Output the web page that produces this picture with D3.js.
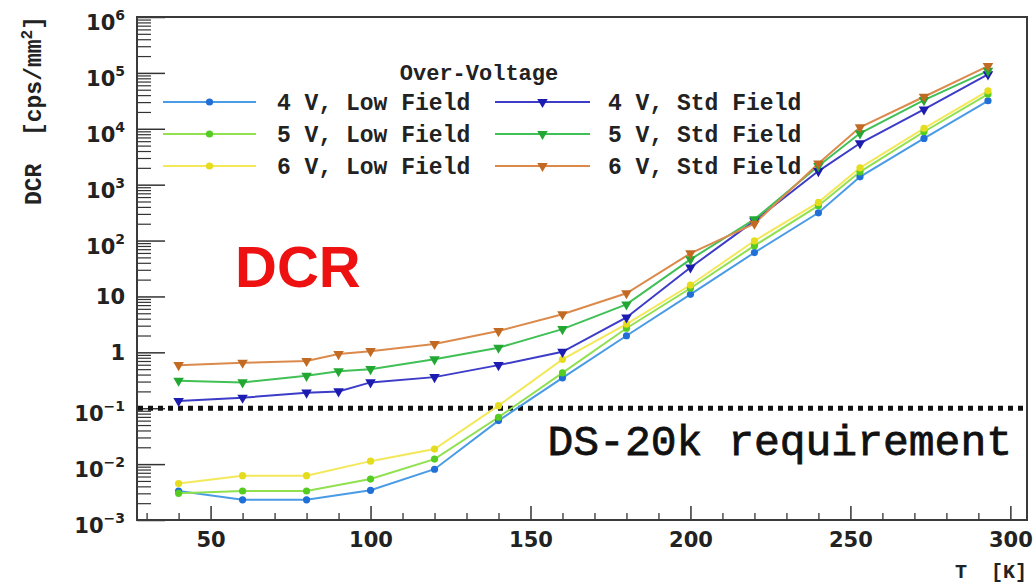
<!DOCTYPE html>
<html>
<head>
<meta charset="utf-8">
<script src="https://cdn.jsdelivr.net/npm/d3@7"></script>
<style>
  html, body { margin: 0; padding: 0; background: #ffffff; }
  svg { display: block; }
</style>
</head>
<body>
<svg id="chart" width="1036" height="585"></svg>
<script>
// Temperatures (K) at which each field configuration was measured
const tempsLow = [40, 60, 80, 100, 120, 140, 160, 180, 200, 220, 240, 253, 273, 293];
const tempsStd = [40, 60, 80, 90, 100, 120, 140, 160, 180, 200, 220, 240, 253, 273, 293];

// Dark count rate, cps/mm^2
const dcr4VLow = [0.0033, 0.0023, 0.0023, 0.0034, 0.0081, 0.060, 0.35, 1.98, 10.9, 61, 314, 1380, 6730, 31700];
const dcr5VLow = [0.0030, 0.0033, 0.0033, 0.0054, 0.0123, 0.069, 0.43, 2.7, 14, 81, 420, 1700, 8850, 41800];
const dcr6VLow = [0.0045, 0.0062, 0.0062, 0.0113, 0.0186, 0.111, 0.75, 3.2, 16, 99, 482, 2000, 10200, 47800];
const dcr4VStd = [0.135, 0.154, 0.19, 0.20, 0.29, 0.36, 0.59, 1.02, 4.2, 33, 225, 1750, 5500, 22200, 94000];
const dcr5VStd = [0.31, 0.29, 0.38, 0.46, 0.50, 0.75, 1.21, 2.6, 7.2, 46, 240, 2150, 8300, 32600, 109000];
const dcr6VStd = [0.59, 0.65, 0.70, 0.93, 1.05, 1.41, 2.4, 4.8, 11.4, 59, 200, 2400, 10600, 37400, 132000];

const seriesNames = ["4 V, Low Field", "5 V, Low Field", "6 V, Low Field",
                     "4 V, Std Field", "5 V, Std Field", "6 V, Std Field"];

const requirement = 0.1;
const xTickLabels = [50, 100, 150, 200, 250, 300];
const yDecades = [-3, -2, -1, 0, 1, 2, 3, 4, 5, 6];

// Series table assembled from the arrays above
const series = [
  { name: seriesNames[0], t: tempsLow, v: dcr4VLow, line: "#4a9be6", mark: "#1f6fd6", shape: "circle" },
  { name: seriesNames[1], t: tempsLow, v: dcr5VLow, line: "#90e050", mark: "#55cc22", shape: "circle" },
  { name: seriesNames[2], t: tempsLow, v: dcr6VLow, line: "#f3e85a", mark: "#e6dc1e", shape: "circle" },
  { name: seriesNames[3], t: tempsStd, v: dcr4VStd, line: "#3c3cc8", mark: "#1c1cb0", shape: "tri" },
  { name: seriesNames[4], t: tempsStd, v: dcr5VStd, line: "#40c055", mark: "#22a832", shape: "tri" },
  { name: seriesNames[5], t: tempsStd, v: dcr6VStd, line: "#db8a4c", mark: "#c26a22", shape: "tri" }
];

const svg = d3.select("#chart");
const L = 137, R = 1027, T = 17, B = 520;

const x = d3.scaleLinear().domain([27, 305.2]).range([L, R]);
const y = d3.scaleLog().domain([1e-3, 1e6]).range([B, T]);

const labelFont = "'DejaVu Sans', Verdana, sans-serif";
const monoFont = "'Liberation Mono', 'Courier New', monospace";

// ---- axes ----
const xMinor = d3.range(30, 306, 10).filter(d => d % 50 !== 0);
svg.append("g").attr("transform", `translate(0,${B})`)
  .call(d3.axisBottom(x).tickValues(xMinor).tickSize(-7).tickFormat(""))
  .call(g => g.select(".domain").remove())
  .call(g => g.selectAll("line").attr("stroke", "#333").attr("stroke-width", 1.3));

svg.append("g").attr("transform", `translate(0,${B})`)
  .call(d3.axisBottom(x).tickValues(xTickLabels).tickSize(-14).tickPadding(12).tickFormat(d3.format("d")))
  .call(g => g.select(".domain").remove())
  .call(g => g.selectAll("line").attr("stroke", "#333").attr("stroke-width", 1.5))
  .call(g => g.selectAll("text")
    .attr("font-family", labelFont).attr("font-weight", "bold")
    .attr("font-size", 21).attr("fill", "#222"));

const yMinor = [];
for (let e = -3; e < 6; e++) for (let k = 2; k <= 9; k++) yMinor.push(k * Math.pow(10, e));
svg.append("g").attr("transform", `translate(${L},0)`)
  .call(d3.axisLeft(y).tickValues(yMinor).tickSize(-14).tickFormat(""))
  .call(g => g.select(".domain").remove())
  .call(g => g.selectAll("line").attr("stroke", "#333").attr("stroke-width", 1.2));

const yMajor = yDecades.map(e => Math.pow(10, e));
svg.append("g").attr("transform", `translate(${L},0)`)
  .call(d3.axisLeft(y).tickValues(yMajor).tickSize(-28).tickFormat(""))
  .call(g => g.select(".domain").remove())
  .call(g => g.selectAll("line").attr("stroke", "#333").attr("stroke-width", 1.5));

// decade labels: plain for 1 and 10, power notation otherwise
const yLab = svg.append("g")
  .attr("font-family", labelFont).attr("font-weight", "bold").attr("fill", "#222");
yDecades.forEach(e => {
  const t = yLab.append("text")
    .attr("x", 125).attr("y", y(Math.pow(10, e)) + 8)
    .attr("text-anchor", "end").attr("font-size", 21);
  if (e === 0 || e === 1) {
    t.text(e === 0 ? "1" : "10");
  } else {
    t.attr("y", y(Math.pow(10, e)) + 13);
    t.append("tspan").text("10");
    t.append("tspan").attr("dy", -10).attr("font-size", 14)
      .text(e < 0 ? "\u2212" + (-e) : String(e));
  }
});

// frame
svg.append("rect")
  .attr("x", L).attr("y", T).attr("width", R - L).attr("height", B - T)
  .attr("fill", "none").attr("stroke", "#3a3a3a").attr("stroke-width", 2);

// axis titles
const yTitle = svg.append("text")
  .attr("transform", `translate(41,${T - 1}) rotate(-90)`)
  .attr("text-anchor", "end")
  .attr("font-family", monoFont).attr("font-weight", "bold")
  .attr("font-size", 23).attr("fill", "#222")
  .attr("xml:space", "preserve");
yTitle.append("tspan").text("DCR  [cps/mm");
yTitle.append("tspan").attr("dy", -9).attr("font-size", 16).text("2");
yTitle.append("tspan").attr("dy", 9).text("]");

svg.append("text")
  .attr("x", R).attr("y", 578).attr("text-anchor", "end")
  .attr("font-family", monoFont).attr("font-weight", "bold")
  .attr("font-size", 20).attr("fill", "#222")
  .attr("xml:space", "preserve")
  .text("T  [K]");

// ---- requirement line ----
svg.append("line")
  .attr("x1", L + 1).attr("x2", R - 1)
  .attr("y1", y(requirement)).attr("y2", y(requirement))
  .attr("stroke", "#111").attr("stroke-width", 5).attr("stroke-dasharray", "5,5");

svg.append("text")
  .attr("x", 1012).attr("y", 455).attr("text-anchor", "end")
  .attr("font-family", monoFont).attr("font-size", 43).attr("fill", "#111")
  .attr("stroke", "#111").attr("stroke-width", 0.8)
  .text("DS-20k requirement");

svg.append("text")
  .attr("x", 235).attr("y", 287)
  .attr("font-family", "'Liberation Sans', Arial, sans-serif").attr("font-weight", "bold")
  .attr("font-size", 58).attr("fill", "#ee1111")
  .text("DCR");

// ---- series ----
const triangle = d3.symbol().type(d3.symbolTriangle).size(48);
const lineGen = d3.line().x(d => x(d[0])).y(d => y(d[1]));

function drawMarker(g, shape, color, cx, cy) {
  if (shape === "circle") {
    g.append("circle").attr("cx", cx).attr("cy", cy).attr("r", 3.6).attr("fill", color);
  } else {
    g.append("path").attr("d", triangle())
      .attr("transform", `translate(${cx},${cy}) rotate(180)`).attr("fill", color);
  }
}

const plot = svg.append("g");
series.forEach(s => {
  const pts = s.t.map((t, i) => [t, s.v[i]]);
  plot.append("path").datum(pts)
    .attr("d", lineGen).attr("fill", "none")
    .attr("stroke", s.line).attr("stroke-width", 2);
});
series.forEach(s => {
  const g = plot.append("g");
  s.t.forEach((t, i) => drawMarker(g, s.shape, s.mark, x(t), y(s.v[i])));
});

// ---- legend ----
const legend = svg.append("g")
  .attr("font-family", monoFont).attr("font-weight", "bold").attr("fill", "#222");
legend.append("text").attr("x", 479).attr("y", 80).attr("text-anchor", "middle")
  .attr("font-size", 22).text("Over-Voltage");

const rowsY = [102, 134, 166];
const cols = [{ x0: 163, x1: 256, tx: 277 }, { x0: 495, x1: 590, tx: 608 }];
series.forEach((s, i) => {
  const c = cols[Math.floor(i / 3)], ry = rowsY[i % 3];
  legend.append("line").attr("x1", c.x0).attr("x2", c.x1).attr("y1", ry).attr("y2", ry)
    .attr("stroke", s.line).attr("stroke-width", 2);
  drawMarker(legend, s.shape, s.mark, (c.x0 + c.x1) / 2, ry);
  legend.append("text").attr("x", c.tx).attr("y", ry + 8)
    .attr("font-size", 23).attr("xml:space", "preserve").text(s.name);
});
</script>
</body>
</html>
